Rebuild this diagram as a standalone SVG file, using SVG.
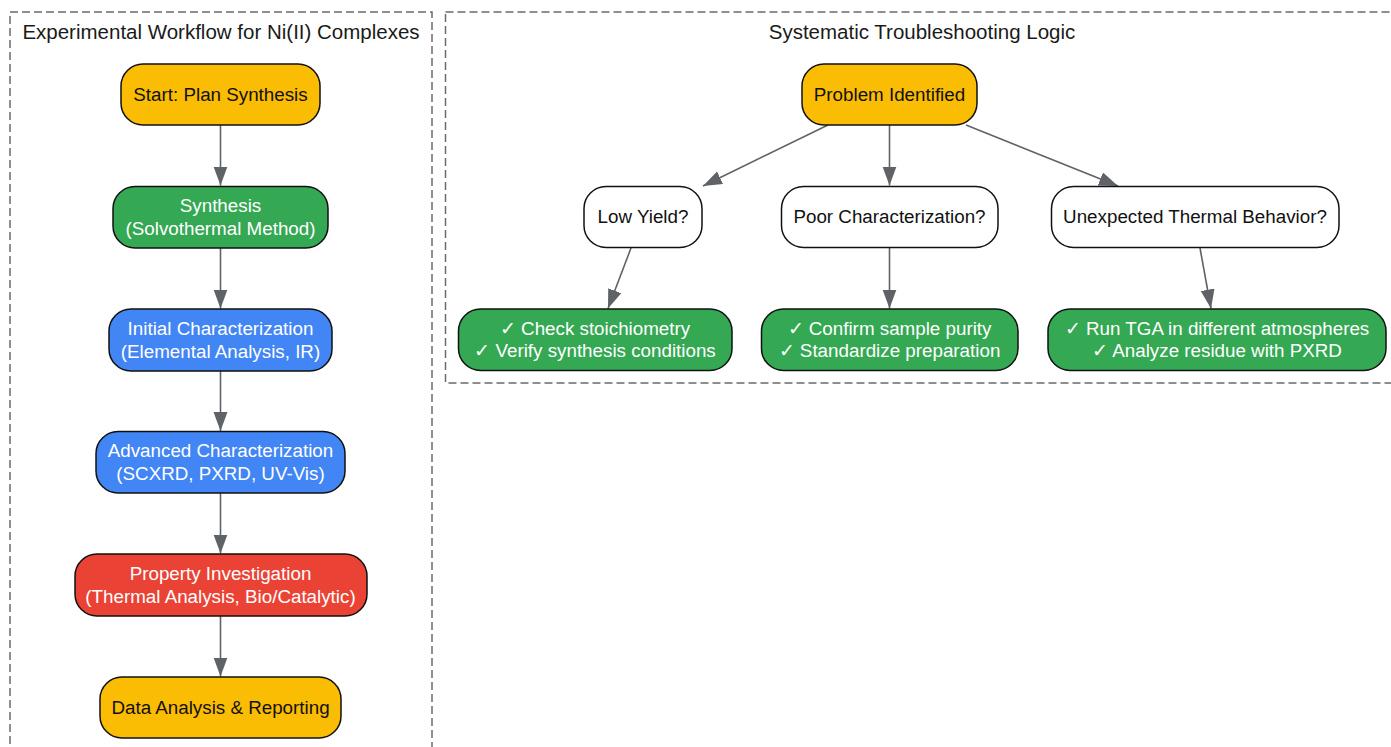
<svg xmlns="http://www.w3.org/2000/svg" width="1391" height="747" viewBox="0 0 1391 747">
<style>
.cl{fill:none;stroke:#6b6b6b;stroke-width:1.5;stroke-dasharray:8,4}
.ttl{font-family:"Liberation Sans",Arial,sans-serif;font-size:20.5px;fill:#1a1a1a;text-anchor:middle}
.n{stroke:#111;stroke-width:1.5}
.t{font-family:"Liberation Sans",Arial,sans-serif;font-size:18.8px;text-anchor:middle;dominant-baseline:central}
.dk{fill:#111}
.wt{fill:#fff}
.y{fill:#fbbc04}.g{fill:#34a853}.b{fill:#4285f4}.r{fill:#ea4335}.w{fill:#fff}
.e{stroke:#5f6368;stroke-width:1.6;fill:none;marker-end:url(#ah)}
</style>
<defs>
<marker id="ah" markerUnits="userSpaceOnUse" markerWidth="20" markerHeight="15" refX="19" refY="7" orient="auto">
<path d="M0,0 L19,7 L0,14 z" fill="#5f6368"/>
</marker>
</defs>
<rect width="1391" height="747" fill="#fff"/>
<g id="cluster_left">
<rect class="cl" x="10" y="12" width="422" height="760"/>
<text class="ttl" x="221" y="39">Experimental Workflow for Ni(II) Complexes</text>
</g>
<g id="cluster_right">
<rect class="cl" x="445.5" y="12" width="960" height="371"/>
<text class="ttl" x="922" y="39">Systematic Troubleshooting Logic</text>
</g>
<g id="connectors">
<line class="e" x1="220.5" y1="125" x2="220.5" y2="185.5"/>
<line class="e" x1="220.5" y1="248" x2="220.5" y2="308.5"/>
<line class="e" x1="220.5" y1="371" x2="220.5" y2="431"/>
<line class="e" x1="220.5" y1="493" x2="220.5" y2="553.5"/>
<line class="e" x1="220.5" y1="616" x2="220.5" y2="676.5"/>
<line class="e" x1="828" y1="125" x2="703" y2="186"/>
<line class="e" x1="889.5" y1="125" x2="889.5" y2="185.5"/>
<line class="e" x1="966" y1="125" x2="1118" y2="186"/>
<line class="e" x1="631" y1="248" x2="608" y2="308.5"/>
<line class="e" x1="889.5" y1="248" x2="889.5" y2="308.5"/>
<line class="e" x1="1200" y1="248" x2="1211" y2="308.5"/>
</g>
<g id="start">
<rect class="n y" x="121" y="64" width="199" height="61" rx="22"/>
<text class="t dk" x="220.5" y="94.5">Start: Plan Synthesis</text>
</g>
<g id="synthesis">
<rect class="n g" x="113" y="186.5" width="215" height="61.5" rx="22"/>
<text class="t wt" x="220.5" y="205.5">Synthesis</text>
<text class="t wt" x="220.5" y="228.5">(Solvothermal Method)</text>
</g>
<g id="initial_char">
<rect class="n b" x="109" y="309" width="223" height="62" rx="22"/>
<text class="t wt" x="220.5" y="328">Initial Characterization</text>
<text class="t wt" x="220.5" y="351">(Elemental Analysis, IR)</text>
</g>
<g id="advanced_char">
<rect class="n b" x="96" y="431.5" width="249" height="61.5" rx="22"/>
<text class="t wt" x="220.5" y="450.5">Advanced Characterization</text>
<text class="t wt" x="220.5" y="473.5">(SCXRD, PXRD, UV-Vis)</text>
</g>
<g id="property">
<rect class="n r" x="75" y="554" width="292" height="62" rx="22"/>
<text class="t wt" x="220.5" y="573">Property Investigation</text>
<text class="t wt" x="220.5" y="596">(Thermal Analysis, Bio/Catalytic)</text>
</g>
<g id="data">
<rect class="n y" x="100" y="677" width="241" height="61" rx="22"/>
<text class="t dk" x="220.5" y="707.5">Data Analysis &amp; Reporting</text>
</g>
<g id="problem">
<rect class="n y" x="802" y="64" width="175" height="61" rx="22"/>
<text class="t dk" x="889.5" y="94.5">Problem Identified</text>
</g>
<g id="low_yield">
<rect class="n w" x="584" y="186.5" width="118" height="61" rx="22"/>
<text class="t dk" x="643" y="216.5">Low Yield?</text>
</g>
<g id="poor_char">
<rect class="n w" x="781.5" y="186.5" width="216.5" height="61" rx="22"/>
<text class="t dk" x="889.5" y="216.5">Poor Characterization?</text>
</g>
<g id="thermal">
<rect class="n w" x="1051.5" y="186.5" width="287.5" height="61" rx="22"/>
<text class="t dk" x="1195" y="216.5">Unexpected Thermal Behavior?</text>
</g>
<g id="fix_yield">
<rect class="n g" x="458.5" y="309" width="273.5" height="61.5" rx="22"/>
<text class="t wt" x="595" y="328">✓ Check stoichiometry</text>
<text class="t wt" x="595" y="350.5">✓ Verify synthesis conditions</text>
</g>
<g id="fix_char">
<rect class="n g" x="761.5" y="309" width="256.5" height="61.5" rx="22"/>
<text class="t wt" x="889.5" y="328">✓ Confirm sample purity</text>
<text class="t wt" x="889.5" y="350.5">✓ Standardize preparation</text>
</g>
<g id="fix_thermal">
<rect class="n g" x="1048" y="309" width="338" height="61.5" rx="22"/>
<text class="t wt" x="1217" y="328">✓ Run TGA in different atmospheres</text>
<text class="t wt" x="1217" y="350.5">✓ Analyze residue with PXRD</text>
</g>
</svg>
